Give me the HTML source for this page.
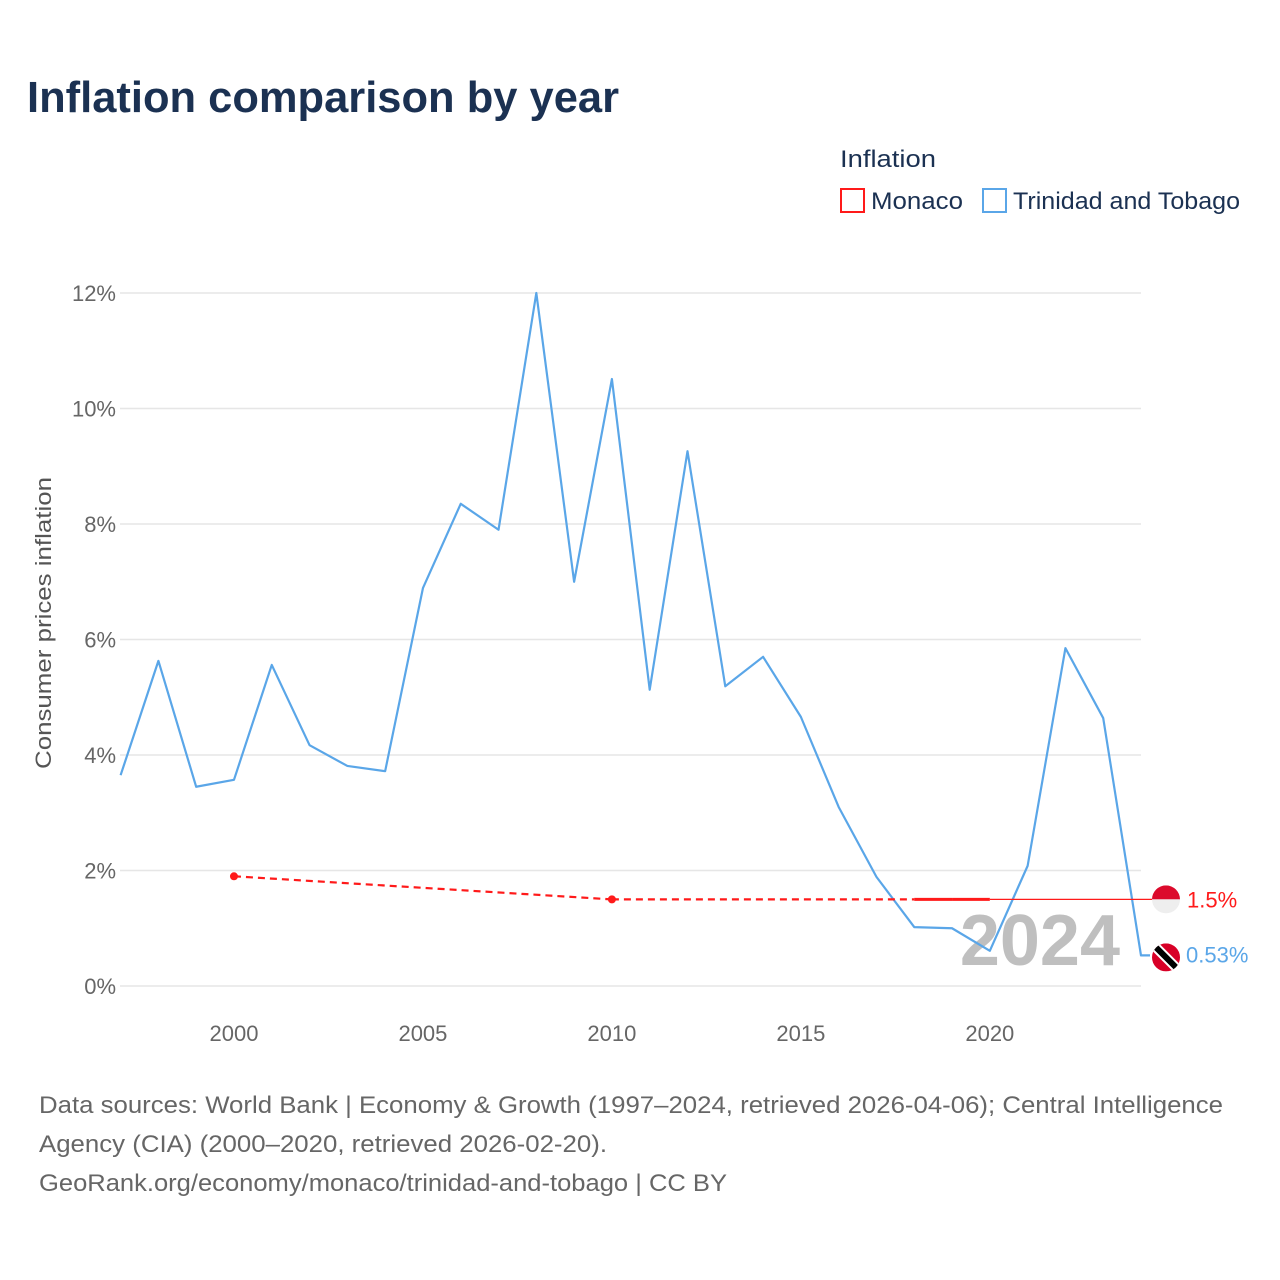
<!DOCTYPE html>
<html><head><meta charset="utf-8"><style>
html,body{margin:0;padding:0;background:#fff;}
svg{display:block;font-family:"Liberation Sans",sans-serif;}
</style></head><body>
<svg id="chart" width="1280" height="1280" viewBox="0 0 1280 1280">
<text x="27" y="112" font-size="44" font-weight="bold" fill="#1b3152" textLength="592" lengthAdjust="spacingAndGlyphs">Inflation comparison by year</text>
<g>
<text x="840" y="167" font-size="24" fill="#1b3152" textLength="96" lengthAdjust="spacingAndGlyphs">Inflation</text>
<g><rect x="841" y="189" width="23" height="23" fill="none" stroke="#ff1a1a" stroke-width="2"/><text x="871" y="209" font-size="24" fill="#1b3152" textLength="92" lengthAdjust="spacingAndGlyphs">Monaco</text></g>
<g><rect x="983" y="189" width="23" height="23" fill="none" stroke="#5aa6e8" stroke-width="2"/><text x="1013" y="209" font-size="24" fill="#1b3152" textLength="227" lengthAdjust="spacingAndGlyphs">Trinidad and Tobago</text></g>
</g>
<g id="grid"></g>
<g id="yticks"></g>
<g id="xticks"></g>
<text transform="translate(51,623) rotate(-90)" text-anchor="middle" font-size="22" fill="#555" textLength="292" lengthAdjust="spacingAndGlyphs">Consumer prices inflation</text>
<text x="1120" y="965" text-anchor="end" font-size="72" font-weight="bold" fill="#aaa" fill-opacity="0.75">2024</text>
<g id="series"></g>
<g>
<text x="39" y="1113" font-size="24" fill="#666" textLength="1184" lengthAdjust="spacingAndGlyphs">Data sources: World Bank | Economy &amp; Growth (1997–2024, retrieved 2026-04-06); Central Intelligence</text>
<text x="39" y="1152" font-size="24" fill="#666" textLength="568" lengthAdjust="spacingAndGlyphs">Agency (CIA) (2000–2020, retrieved 2026-02-20).</text>
<text x="39" y="1191" font-size="24" fill="#666" textLength="688" lengthAdjust="spacingAndGlyphs">GeoRank.org/economy/monaco/trinidad-and-tobago | CC BY</text>
</g>
</svg>
<script>
const ttYears=[1997,1998,1999,2000,2001,2002,2003,2004,2005,2006,2007,2008,2009,2010,2011,2012,2013,2014,2015,2016,2017,2018,2019,2020,2021,2022,2023,2024];
const ttValues=[3.65,5.63,3.45,3.57,5.56,4.17,3.81,3.72,6.89,8.35,7.90,12.0,7.0,10.51,5.13,9.26,5.19,5.70,4.66,3.10,1.89,1.02,1.0,0.61,2.08,5.85,4.64,0.53];
const mcYears=[2000,2010,2018,2019,2020];
const mcValues=[1.9,1.5,1.5,1.5,1.5];
const yTicks=[0,2,4,6,8,10,12];
const xTicks=[2000,2005,2010,2015,2020];
const NS='http://www.w3.org/2000/svg';
const X0=120.6,X1=1141,Y0=986,Y1=293;
function xs(y){return X0+(y-1997)/(2024-1997)*(X1-X0);}
function ys(v){return Y0-v/12*(Y0-Y1);}
function mk(tag,attrs,parent){const e=document.createElementNS(NS,tag);for(const k in attrs)e.setAttribute(k,attrs[k]);parent.appendChild(e);return e;}
const grid=document.getElementById('grid'),yt=document.getElementById('yticks'),xt=document.getElementById('xticks'),ser=document.getElementById('series');
yTicks.forEach(t=>{
 const l=mk('line',{x1:120,x2:1141,y1:ys(t),y2:ys(t),stroke:'#e6e6e6','stroke-width':1.5},grid);
 
 
 const tx=mk('text',{x:116,y:ys(t)+8,'text-anchor':'end','font-size':22,fill:'#666'},yt);
 tx.textContent=t+'%';
 
 
});
xTicks.forEach(t=>{
 const tx=mk('text',{x:xs(t),y:1041,'text-anchor':'middle','font-size':22,fill:'#666'},xt);
 tx.textContent=t;
 
 
});
// Trinidad line
let d=ttYears.map((y,i)=>(i?'L':'M')+xs(y)+' '+ys(ttValues[i])).join(' ');
d+=' L'+(xs(2024)+9)+' '+ys(ttValues[ttValues.length-1]);
const tl=mk('path',{d:d,fill:'none',stroke:'#5aa6e8','stroke-width':2.2,'stroke-linejoin':'round'},ser);


// Monaco: dashed between sparse points, solid between consecutive years
for(let i=1;i<mcYears.length;i++){
 const consecutive=mcYears[i]-mcYears[i-1]===1;
 const s=mk('line',{x1:xs(mcYears[i-1]),y1:ys(mcValues[i-1]),x2:xs(mcYears[i]),y2:ys(mcValues[i]),stroke:'#ff1a1a','stroke-width':consecutive?3:2.2},ser);
 if(!consecutive)s.setAttribute('stroke-dasharray','7 5');
 
 
}
const lastM=mcValues[mcValues.length-1];
const ml=mk('line',{x1:xs(mcYears[mcYears.length-1]),y1:ys(lastM),x2:1152,y2:ys(lastM),stroke:'#ff1a1a','stroke-width':1.2},ser);


[0,1].forEach(i=>{
 const c=mk('circle',{cx:xs(mcYears[i]),cy:ys(mcValues[i]),r:4,fill:'#ff1a1a'},ser);
 
 
});
// end labels with flags
const fy1=ys(lastM), fy2=ys(ttValues[ttValues.length-1]);
const defs=mk('defs',{},ser);
const cp1=mk('clipPath',{id:'c1'},defs);mk('circle',{cx:1166,cy:fy1,r:14},cp1);
const cp2=mk('clipPath',{id:'c2'},defs);mk('circle',{cx:1166,cy:fy2+2,r:14},cp2);
const f1=mk('g',{'clip-path':'url(#c1)'},ser);


mk('rect',{x:1152,y:fy1-14,width:28,height:14,fill:'#dc0a2c'},f1);
mk('rect',{x:1152,y:fy1,width:28,height:14,fill:'#eeeeee'},f1);
const f2=mk('g',{'clip-path':'url(#c2)'},ser);


mk('rect',{x:1152,y:fy2-12,width:28,height:28,fill:'#d80027'},f2);
mk('line',{x1:1154,y1:fy2-10,x2:1180,y2:fy2+16,stroke:'#fff','stroke-width':10},f2);
mk('line',{x1:1154,y1:fy2-10,x2:1180,y2:fy2+16,stroke:'#000','stroke-width':6},f2);
const l1=mk('text',{x:1187,y:fy1+8,'font-size':22,fill:'#ff1a1a'},ser);
l1.textContent=lastM+'%';


const l2=mk('text',{x:1186,y:fy2+7,'font-size':22,fill:'#5aa6e8'},ser);
l2.textContent=ttValues[ttValues.length-1]+'%';


</script>
</body></html>
